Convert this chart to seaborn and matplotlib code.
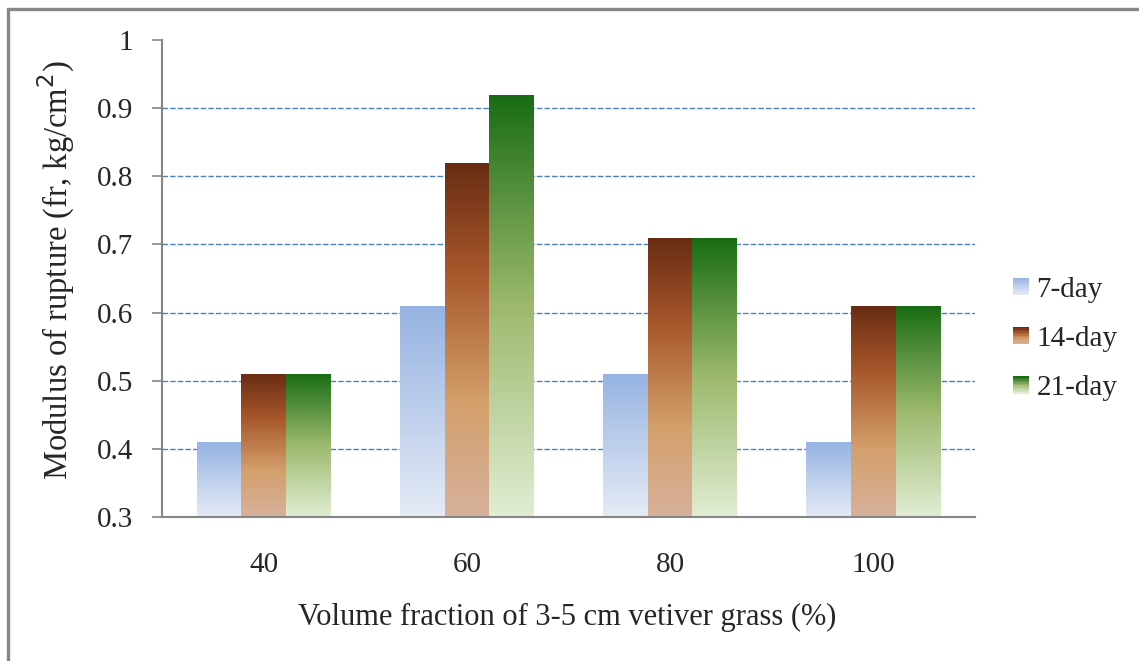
import numpy as np
import pandas as pd
import matplotlib
matplotlib.use("Agg")
import matplotlib.pyplot as plt
import seaborn as sns
from matplotlib.colors import LinearSegmentedColormap
from matplotlib.patches import Rectangle
from matplotlib.legend_handler import HandlerBase

categories = ["40", "60", "80", "100"]
series = ["7-day", "14-day", "21-day"]
day7 = [0.41, 0.61, 0.51, 0.41]
day14 = [0.51, 0.82, 0.71, 0.61]
day21 = [0.51, 0.92, 0.71, 0.61]
yticks = [0.3, 0.4, 0.5, 0.6, 0.7, 0.8, 0.9, 1.0]

grad_stops = {
    "7-day": [(0.0, "#96B3E2"), (1.0, "#E5EBF6")],
    "14-day": [(0.0, "#682C13"), (0.3, "#A6552A"), (0.68, "#D4A06C"), (1.0, "#D7B19C")],
    "21-day": [(0.0, "#186C14"), (0.5, "#9DB96D"), (1.0, "#E1EDD4")],
}
cmaps = {k: LinearSegmentedColormap.from_list(k, v) for k, v in grad_stops.items()}

df = pd.DataFrame({
    "cat": categories * 3,
    "series": [s for s in series for _ in categories],
    "value": day7 + day14 + day21,
})

sns.set_style("white")
plt.rcParams["font.family"] = ["Liberation Serif", "DejaVu Serif"]

fig = plt.figure(figsize=(11.39, 6.61), dpi=100)
ax = fig.add_axes([162 / 1139, 1 - 517 / 661, (975 - 162) / 1139, (517 - 40) / 661])

mid = {s: cmaps[s](0.5) for s in series}
sns.barplot(data=df, x="cat", y="value", hue="series", order=categories,
            hue_order=series, palette=mid, width=0.66, saturation=1,
            ax=ax, legend=False, zorder=2)

ymin, ymax = 0.3, 1.0
grad = np.linspace(0, 1, 256).reshape(-1, 1)
for i, cont in enumerate(ax.containers):
    cm = cmaps[series[i]]
    for p in cont.patches:
        x0, w, h = p.get_x(), p.get_width(), p.get_height()
        top = p.get_y() + h
        im = ax.imshow(grad, cmap=cm, extent=[x0, x0 + w, ymin, top],
                       origin="upper", aspect="auto", zorder=2, interpolation="bilinear")
        im.set_clip_path(p)
        p.set_facecolor("none")
        p.set_edgecolor("none")

ax.set_xlim(-0.5, 3.5)
ax.set_ylim(ymin, ymax)
ax.set_yticks(yticks)
ax.set_yticklabels([f"{t:g}" for t in yticks])

for t in yticks[1:-1]:
    ax.axhline(t, color="#4F81BD", lw=1.0, ls=(0, (4, 1.5)), zorder=1)

for side in ["top", "right"]:
    ax.spines[side].set_visible(False)
for side in ["left", "bottom"]:
    ax.spines[side].set_color("#868686")
    ax.spines[side].set_linewidth(1.5)

ax.tick_params(axis="y", which="major", left=True, length=7, width=1.2,
               color="#868686", pad=14, labelsize=21)
ax.tick_params(axis="x", which="major", bottom=False, pad=22, labelsize=21)

ax.set_xlabel("Volume fraction of 3-5 cm vetiver grass (%)", fontsize=22)
ax.set_ylabel("Modulus of rupture (fr, kg/cm$^2$)", fontsize=23.5)
ax.xaxis.set_label_coords(0.498, -0.18)
ax.yaxis.set_label_coords(-0.104, 0.518)


class GradHandler(HandlerBase):
    def __init__(self, cmap):
        super().__init__()
        self.cmap = cmap

    def create_artists(self, legend, orig_handle, xdescent, ydescent, width, height, fontsize, trans):
        arts = []
        n = 12
        for k in range(n):
            r = Rectangle((-xdescent, -ydescent + height * (1 - (k + 1) / n)), width, height / n,
                          facecolor=self.cmap(k / (n - 1)), edgecolor="none", transform=trans)
            arts.append(r)
        return arts


handles = [Rectangle((0, 0), 1, 1) for _ in series]
fig.legend(handles, series, loc="center left", bbox_to_anchor=(987 / 1139, 1 - 339 / 661),
           frameon=False, fontsize=21, handlelength=0.55, handleheight=0.55,
           handletextpad=0.25, labelspacing=0.8,
           handler_map={h: GradHandler(cmaps[s]) for h, s in zip(handles, series)})

border = Rectangle((8 / 1139, -0.05), 1.2, 1 - 9 / 661 + 0.05, transform=fig.transFigure,
                   fill=False, edgecolor="#878787", linewidth=2.4)
fig.patches.append(border)

fig.savefig("out.png", dpi=100)
